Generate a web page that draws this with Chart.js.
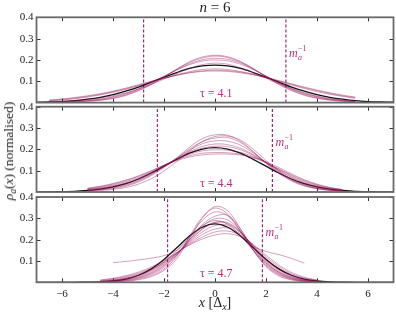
<!DOCTYPE html>
<html>
<head>
<meta charset="utf-8">
<script src="https://cdn.jsdelivr.net/npm/chart.js@4.4.1/dist/chart.umd.min.js"></script>
<style>
  body { margin: 0; background: #fff; }
  #wrap { position: relative; width: 396px; height: 316px; overflow: hidden; }
  canvas { position: absolute; left: 0; top: 0; }
  .lbl { position: absolute; font-family: 'Liberation Serif', serif; color: #222; white-space: nowrap; }
  sub { font-size: 70%; vertical-align: -0.3em; line-height: 0; }
</style>
</head>
<body>
<div id="wrap">
  <canvas id="p1" width="396" height="316"></canvas>
  <canvas id="p2" width="396" height="316"></canvas>
  <canvas id="p3" width="396" height="316"></canvas>
  <div class="lbl" id="title" style="left:0;width:430px;top:-1px;text-align:center;font-size:15px;"><i>n</i> = 6</div>
  <div class="lbl" id="ylab" style="left:9px;top:151px;font-size:13.5px;transform:translate(-50%,-50%) rotate(-90deg);"><i>ρ<sub>a</sub></i>(<i>x</i>) (normalised)</div>
  <div class="lbl" id="xlab" style="left:0;width:430px;top:295px;text-align:center;font-size:14px;"><i>x</i> [Δ<sub><i>x</i></sub>]</div>
</div>
<script>
// shared axes
const xTicks = [-6, -4, -2, 0, 2, 4, 6];
const yTicks = [0.1, 0.2, 0.3, 0.4];
const xsFit = [-7,-6.5,-6,-5.5,-5,-4.5,-4,-3.5,-3,-2.5,-2,-1.5,-1,-0.5,0,0.5,1,1.5,2,2.5,3,3.5,4,4.5,5,5.5,6,6.5,7];

// panel 1, tau = 4.1
const tau1 = 4.1;
const mInv1 = [-2.8, 2.78];
const fit1 = [0.002,0.003,0.005,0.009,0.016,0.025,0.037,0.054,0.073,0.096,0.119,0.141,0.160,0.172,0.176,0.172,0.160,0.141,0.119,0.096,0.073,0.054,0.037,0.025,0.016,0.009,0.005,0.003,0.002];
const xs1 = [-6.5,-6,-5.5,-5,-4.5,-4,-3.5,-3,-2.5,-2,-1.5,-1,-0.5,0,0.5,1,1.5,2,2.5,3,3.5,4,4.5,5,5.5];
const runs1 = [
  [0.002,0.003,0.004,0.007,0.012,0.021,0.036,0.058,0.086,0.120,0.156,0.188,0.209,0.218,0.211,0.190,0.158,0.122,0.088,0.059,0.037,0.022,0.013,0.007,0.004],
  [0.003,0.004,0.006,0.009,0.015,0.025,0.040,0.062,0.090,0.122,0.154,0.182,0.201,0.208,0.203,0.186,0.157,0.124,0.091,0.063,0.041,0.026,0.015,0.009,0.005],
  [0.001,0.002,0.004,0.006,0.011,0.019,0.033,0.055,0.084,0.119,0.157,0.192,0.214,0.222,0.215,0.193,0.160,0.121,0.085,0.056,0.034,0.020,0.011,0.006,0.003],
  [0.004,0.005,0.007,0.011,0.017,0.028,0.043,0.065,0.093,0.124,0.153,0.178,0.195,0.200,0.196,0.180,0.155,0.125,0.094,0.066,0.044,0.028,0.017,0.010,0.006],
  [0.010,0.015,0.021,0.029,0.039,0.051,0.065,0.081,0.098,0.114,0.129,0.141,0.149,0.152,0.150,0.143,0.132,0.118,0.102,0.086,0.070,0.056,0.043,0.032,0.023],
  [0.008,0.012,0.018,0.026,0.036,0.048,0.062,0.078,0.096,0.113,0.130,0.145,0.155,0.158,0.155,0.146,0.133,0.117,0.099,0.082,0.066,0.051,0.039,0.029,0.020],
  [0.012,0.017,0.024,0.032,0.042,0.054,0.068,0.084,0.100,0.115,0.128,0.139,0.146,0.148,0.146,0.140,0.130,0.117,0.103,0.088,0.073,0.059,0.046,0.035,0.026],
  [0.005,0.007,0.010,0.015,0.022,0.032,0.046,0.064,0.086,0.110,0.136,0.160,0.178,0.185,0.180,0.163,0.140,0.114,0.088,0.065,0.046,0.031,0.020,0.012,0.007]
];

// panel 2, tau = 4.4
const tau2 = 4.4;
const mInv2 = [-2.26, 2.25];
const fit2 = [0.000,0.001,0.002,0.003,0.007,0.013,0.024,0.039,0.061,0.089,0.121,0.153,0.182,0.201,0.208,0.201,0.182,0.153,0.121,0.089,0.061,0.039,0.024,0.013,0.007,0.003,0.002,0.001,0.000];
const xs2 = [-5,-4.5,-4,-3.5,-3,-2.5,-2,-1.5,-1,-0.5,0,0.5,1,1.5,2,2.5,3,3.5,4,4.5,5];
const runs2 = [
  [0.006,0.010,0.016,0.027,0.047,0.077,0.115,0.160,0.210,0.250,0.268,0.266,0.238,0.190,0.135,0.087,0.051,0.028,0.015,0.008,0.004],
  [0.008,0.012,0.019,0.031,0.051,0.081,0.118,0.158,0.202,0.236,0.253,0.255,0.232,0.188,0.137,0.091,0.055,0.031,0.017,0.009,0.005],
  [0.009,0.014,0.022,0.035,0.055,0.084,0.120,0.158,0.196,0.226,0.240,0.238,0.220,0.183,0.138,0.095,0.060,0.035,0.020,0.011,0.006],
  [0.011,0.017,0.026,0.040,0.060,0.088,0.121,0.156,0.189,0.213,0.225,0.222,0.205,0.176,0.139,0.101,0.067,0.041,0.024,0.013,0.007],
  [0.012,0.019,0.029,0.043,0.063,0.090,0.122,0.155,0.184,0.205,0.215,0.213,0.198,0.172,0.138,0.103,0.071,0.045,0.027,0.015,0.008],
  [0.014,0.022,0.033,0.048,0.068,0.094,0.124,0.153,0.177,0.193,0.198,0.196,0.186,0.166,0.138,0.107,0.076,0.050,0.031,0.018,0.010],
  [0.016,0.025,0.037,0.053,0.073,0.098,0.126,0.151,0.170,0.182,0.185,0.184,0.177,0.161,0.137,0.109,0.080,0.054,0.034,0.020,0.011],
  [0.018,0.027,0.040,0.056,0.076,0.100,0.125,0.147,0.164,0.174,0.178,0.178,0.174,0.162,0.142,0.115,0.085,0.058,0.037,0.022,0.012],
  [0.004,0.007,0.012,0.021,0.037,0.062,0.098,0.143,0.193,0.236,0.260,0.262,0.243,0.201,0.148,0.098,0.058,0.032,0.016,0.008,0.004]
];

// panel 3, tau = 4.7
const tau3 = 4.7;
const mInv3 = [-1.86, 1.86];
const fit3 = [0.000,0.000,0.000,0.000,0.001,0.002,0.006,0.015,0.033,0.063,0.107,0.162,0.217,0.258,0.274,0.258,0.217,0.162,0.107,0.063,0.033,0.015,0.006,0.002,0.001,0.000,0.000,0.000,0.000];
const xs3 = [-4.5,-4,-3.5,-3,-2.5,-2,-1.5,-1,-0.5,0,0.5,1,1.5,2,2.5,3,3.5,4];
const runs3 = [
  [0.001,0.003,0.007,0.015,0.032,0.062,0.120,0.215,0.305,0.348,0.320,0.240,0.150,0.078,0.035,0.014,0.005,0.002],
  [0.002,0.004,0.009,0.019,0.038,0.070,0.126,0.210,0.290,0.330,0.312,0.238,0.152,0.082,0.039,0.016,0.006,0.002],
  [0.002,0.005,0.011,0.022,0.042,0.076,0.128,0.200,0.270,0.310,0.314,0.250,0.160,0.088,0.042,0.018,0.007,0.003],
  [0.003,0.006,0.013,0.025,0.046,0.080,0.130,0.198,0.262,0.298,0.292,0.240,0.163,0.094,0.047,0.021,0.009,0.003],
  [0.004,0.008,0.016,0.029,0.051,0.085,0.133,0.192,0.248,0.282,0.280,0.236,0.166,0.099,0.052,0.025,0.011,0.004],
  [0.005,0.010,0.019,0.033,0.056,0.089,0.135,0.188,0.236,0.266,0.268,0.232,0.170,0.105,0.058,0.029,0.013,0.005],
  [0.007,0.013,0.023,0.038,0.061,0.094,0.137,0.183,0.224,0.250,0.254,0.226,0.172,0.112,0.065,0.034,0.016,0.007],
  [0.009,0.016,0.027,0.043,0.066,0.098,0.138,0.178,0.212,0.236,0.240,0.220,0.175,0.120,0.073,0.040,0.020,0.009],
  [0.011,0.019,0.031,0.048,0.072,0.103,0.140,0.175,0.203,0.222,0.228,0.214,0.178,0.128,0.081,0.046,0.024,0.011],
  [null,0.092,0.098,0.105,0.113,0.125,0.150,0.200,0.250,0.280,0.275,0.235,0.170,0.145,0.130,0.112,0.090,null],
  [0.001,0.002,0.005,0.012,0.027,0.056,0.110,0.205,0.300,0.355,0.335,0.250,0.150,0.074,0.030,0.011,0.004,0.001],
  [0.004,0.009,0.018,0.033,0.058,0.095,0.148,0.212,0.265,0.290,0.272,0.218,0.150,0.090,0.048,0.023,0.010,0.004]
];

const runColor = 'rgba(150, 20, 90, 0.4)';
const markColor = '#a8236f';
const frameColor = '#6a6a6a';
const tickFont = { family: 'Liberation Serif', size: 11 };

function series(xs, ys, color, width) {
    return {
        data: xs.map((x, i) => ({ x: x, y: ys[i] })),
        borderColor: color,
        borderWidth: width,
        pointRadius: 0,
        tension: 0.35,
        fill: false
    };
}

function vline(x) {
    return {
        data: [{ x: x, y: 0 }, { x: x, y: 0.4 }],
        borderColor: markColor,
        borderWidth: 1.2,
        borderDash: [3, 2],
        pointRadius: 0,
        fill: false
    };
}

// frame, inward ticks, tau and m_a^-1 labels
const panelDecor = {
    id: 'panelDecor',
    afterDatasetsDraw(chart, args, opts) {
        const ctx = chart.ctx;
        const a = chart.chartArea;
        const sx = chart.scales.x, sy = chart.scales.y;
        ctx.save();
        ctx.strokeStyle = '#333';
        ctx.lineWidth = 1;
        xTicks.forEach(v => {
            const px = Math.round(sx.getPixelForValue(v)) + 0.5;
            ctx.beginPath();
            ctx.moveTo(px, a.bottom); ctx.lineTo(px, a.bottom - 4);
            ctx.moveTo(px, a.top); ctx.lineTo(px, a.top + 4);
            ctx.stroke();
        });
        yTicks.forEach(v => {
            const py = Math.round(sy.getPixelForValue(v)) + 0.5;
            ctx.beginPath();
            ctx.moveTo(a.left, py); ctx.lineTo(a.left + 4, py);
            ctx.moveTo(a.right, py); ctx.lineTo(a.right - 4, py);
            ctx.stroke();
        });
        ctx.strokeStyle = frameColor;
        ctx.lineWidth = 1.8;
        ctx.strokeRect(a.left, a.top, a.right - a.left, a.bottom - a.top);

        // tau label
        ctx.fillStyle = '#b4307a';
        ctx.font = '12px "Liberation Serif"';
        ctx.textAlign = 'center';
        ctx.textBaseline = 'middle';
        ctx.fillText('τ = ' + opts.tau.toFixed(1), sx.getPixelForValue(0.05), sy.getPixelForValue(0.04));

        // m_a^-1 label
        const lx = sx.getPixelForValue(opts.mInv[1]) + 3;
        const ly = sy.getPixelForValue(0.215);
        ctx.textAlign = 'left';
        ctx.textBaseline = 'alphabetic';
        ctx.font = 'italic 12px "Liberation Serif"';
        ctx.fillText('m', lx, ly);
        const mw = ctx.measureText('m').width;
        ctx.font = 'italic 8px "Liberation Serif"';
        ctx.fillText('a', lx + mw + 0.5, ly + 3);
        ctx.font = '8px "Liberation Serif"';
        ctx.fillText('−1', lx + mw + 0.5, ly - 6);
        ctx.restore();
    }
};

function makePanel(id, xs, runs, fit, mInv, tau, pad, showX) {
    const datasets = runs.map(r => series(xs, r, runColor, 1));
    datasets.push(series(xsFit, fit, '#111', 1.3));
    datasets.push(vline(mInv[0]));
    datasets.push(vline(mInv[1]));

    return new Chart(document.getElementById(id), {
        type: 'line',
        data: { datasets: datasets },
        options: {
            responsive: false,
            animation: false,
            events: [],
            layout: { padding: pad },
            plugins: {
                legend: { display: false },
                tooltip: { enabled: false },
                panelDecor: { tau: tau, mInv: mInv }
            },
            scales: {
                x: {
                    type: 'linear',
                    min: -7,
                    max: 7,
                    afterBuildTicks: s => { s.ticks = xTicks.map(v => ({ value: v })); },
                    afterFit: s => { s.height = showX ? 33.7 : 0; },
                    grid: { display: false, drawTicks: false },
                    border: { display: false },
                    ticks: {
                        display: showX,
                        padding: 5,
                        color: '#222',
                        font: tickFont,
                        maxRotation: 0,
                        callback: v => String(v).replace('-', '−')
                    }
                },
                y: {
                    min: 0,
                    max: 0.4,
                    afterBuildTicks: s => { s.ticks = yTicks.map(v => ({ value: v })); },
                    afterFit: s => { s.width = 36.5; },
                    grid: { display: false, drawTicks: false },
                    border: { display: false },
                    ticks: {
                        padding: 3,
                        color: '#222',
                        font: tickFont,
                        callback: v => v.toFixed(1)
                    }
                }
            }
        },
        plugins: [panelDecor]
    });
}

makePanel('p1', xs1, runs1, fit1, mInv1, tau1, { top: 17.3, bottom: 213.4, left: 0, right: 2.5 }, false);
makePanel('p2', xs2, runs2, fit2, mInv2, tau2, { top: 106.7, bottom: 124, left: 0, right: 2.5 }, false);
makePanel('p3', xs3, runs3, fit3, mInv3, tau3, { top: 197, bottom: 0, left: 0, right: 2.5 }, true);
</script>
</body>
</html>
